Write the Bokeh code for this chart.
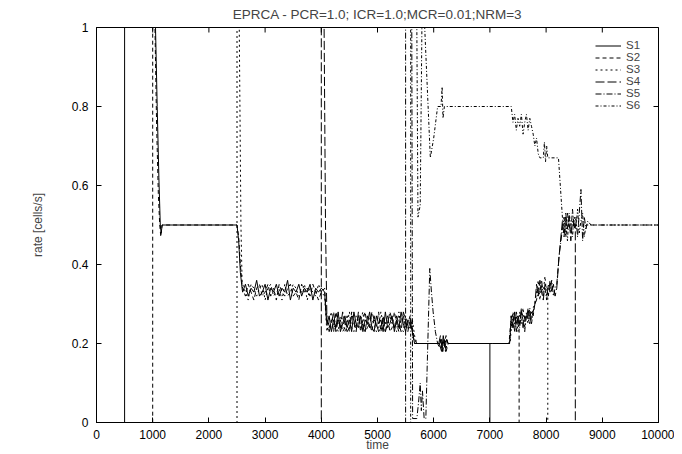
import math
from bokeh.plotting import figure
from bokeh.models import Range1d, Legend, LegendItem, FixedTicker, NumeralTickFormatter
from bokeh.embed import file_html
from bokeh.resources import INLINE

title_text = "EPRCA - PCR=1.0; ICR=1.0;MCR=0.01;NRM=3"
x_ticks = [0, 1000, 2000, 3000, 4000, 5000, 6000, 7000, 8000, 9000, 10000]
y_ticks = [0, 0.2, 0.4, 0.6, 0.8, 1]
names = ["S1", "S2", "S3", "S4", "S5", "S6"]

# sample times of the oscillating phases
tB = [2600, 2650, 2700, 2750, 2800, 2850, 2900, 2950, 3000, 3050, 3100, 3150, 3200, 3250, 3300,
      3350, 3400, 3450, 3500, 3550, 3600, 3650, 3700, 3750, 3800, 3850, 3900, 3950, 4000]
tC = [4100, 4140, 4180, 4220, 4260, 4300, 4340, 4380, 4420, 4460, 4500, 4540, 4580, 4620, 4660,
      4700, 4740, 4780, 4820, 4860, 4900, 4940, 4980, 5020, 5060, 5100, 5140, 5180, 5220, 5260,
      5300, 5340, 5380, 5420, 5460, 5500, 5540]
tE = [7380, 7410, 7440, 7470, 7500, 7530, 7560, 7590, 7620, 7650, 7680, 7710, 7740, 7770]
tF = [7830, 7860, 7890, 7920, 7950, 7980, 8010, 8040, 8070, 8100, 8130, 8160, 8190]
tG = [8290, 8320, 8350, 8380, 8410, 8440, 8470, 8500, 8530, 8560, 8590, 8620, 8650, 8680, 8710, 8740]

s1B = [0.33, 0.35, 0.32, 0.34, 0.33, 0.36, 0.32, 0.33, 0.35, 0.31, 0.34, 0.33, 0.35, 0.32, 0.34,
       0.33, 0.36, 0.31, 0.34, 0.33, 0.35, 0.32, 0.34, 0.33, 0.35, 0.31, 0.34, 0.33, 0.34]
s2B = [0.34, 0.32, 0.35, 0.33, 0.31, 0.34, 0.35, 0.32, 0.33, 0.35, 0.32, 0.34, 0.31, 0.35, 0.33,
       0.32, 0.34, 0.35, 0.32, 0.33, 0.31, 0.35, 0.33, 0.34, 0.32, 0.35, 0.33, 0.31, 0.33]
s3B = [0.35, 0.33, 0.31, 0.35, 0.34, 0.32, 0.34, 0.35, 0.31, 0.34, 0.35, 0.32, 0.33, 0.34, 0.31,
       0.35, 0.32, 0.33, 0.35, 0.34, 0.32, 0.33, 0.35, 0.31, 0.34, 0.33, 0.32, 0.35, 0.33]

s1C = [0.25, 0.27, 0.23, 0.26, 0.24, 0.28, 0.23, 0.25, 0.27, 0.24, 0.26, 0.23, 0.28, 0.25, 0.24,
       0.27, 0.23, 0.26, 0.25, 0.28, 0.24, 0.23, 0.27, 0.25, 0.26, 0.23, 0.28, 0.24, 0.25, 0.27,
       0.23, 0.26, 0.24, 0.28, 0.25, 0.23, 0.26]
s2C = [0.27, 0.24, 0.26, 0.23, 0.28, 0.25, 0.26, 0.23, 0.24, 0.27, 0.23, 0.28, 0.25, 0.24, 0.27,
       0.23, 0.26, 0.28, 0.24, 0.25, 0.23, 0.27, 0.24, 0.28, 0.23, 0.26, 0.25, 0.27, 0.23, 0.24,
       0.28, 0.25, 0.23, 0.26, 0.27, 0.24, 0.25]
s3C = [0.23, 0.26, 0.28, 0.24, 0.25, 0.23, 0.27, 0.26, 0.23, 0.25, 0.28, 0.24, 0.23, 0.27, 0.25,
       0.26, 0.28, 0.23, 0.24, 0.27, 0.26, 0.25, 0.23, 0.24, 0.28, 0.25, 0.23, 0.26, 0.27, 0.25,
       0.24, 0.23, 0.28, 0.24, 0.23, 0.27, 0.24]
s4C = [0.26, 0.23, 0.25, 0.28, 0.23, 0.26, 0.24, 0.28, 0.25, 0.23, 0.24, 0.27, 0.26, 0.23, 0.28,
       0.24, 0.25, 0.23, 0.27, 0.24, 0.28, 0.26, 0.25, 0.23, 0.24, 0.27, 0.23, 0.25, 0.28, 0.26,
       0.24, 0.27, 0.25, 0.23, 0.28, 0.26, 0.23]

s3E = [0.24, 0.28, 0.25, 0.27, 0.23, 0.28, 0.25, 0.29, 0.24, 0.27, 0.25, 0.28, 0.26, 0.29]
s4E = [0.27, 0.24, 0.28, 0.23, 0.27, 0.25, 0.29, 0.24, 0.27, 0.26, 0.29, 0.25, 0.28, 0.27]
s5E = [0.25, 0.27, 0.23, 0.28, 0.26, 0.24, 0.28, 0.26, 0.23, 0.28, 0.26, 0.29, 0.25, 0.28]
s6E = [0.80, 0.76, 0.78, 0.74, 0.77, 0.75, 0.78, 0.73, 0.76, 0.78, 0.74, 0.77, 0.75, 0.73]

s3F = [0.33, 0.36, 0.31, 0.35, 0.33, 0.37, 0.32]
s4F = [0.35, 0.32, 0.36, 0.33, 0.31, 0.35, 0.34, 0.32, 0.36, 0.33, 0.35, 0.32, 0.34]
s5F = [0.31, 0.34, 0.33, 0.36, 0.32, 0.34, 0.31, 0.35, 0.33, 0.36, 0.32, 0.34, 0.35]

s4G = [0.51, 0.47, 0.53, 0.49, 0.52, 0.46, 0.51, 0.50]
s5G = [0.49, 0.52, 0.47, 0.53, 0.50, 0.48, 0.54, 0.49, 0.52, 0.47, 0.53, 0.59, 0.46, 0.52, 0.49, 0.51]
s6G = [0.52, 0.48, 0.51, 0.46, 0.53, 0.50, 0.47, 0.52, 0.49, 0.54, 0.48, 0.51, 0.53, 0.47, 0.50, 0.50]

s1_t = ([0, 500, 500, 1050, 1080, 1110, 1135, 1150, 1170, 2500, 2530, 2560, 2590] + tB
        + [4060, 4085] + tC
        + [5580, 5620, 5660, 6100, 6140, 6170, 6200, 6230, 6260, 7000, 7000, 10000])
s1_v = ([0, 0, 1, 1, 0.8, 0.62, 0.5, 0.48, 0.5, 0.5, 0.46, 0.38, 0.34] + s1B
        + [0.33, 0.27] + s1C
        + [0.25, 0.23, 0.2, 0.2, 0.18, 0.22, 0.19, 0.21, 0.2, 0.2, 0, 0])

s2_t = ([0, 1000, 1000, 1040, 1070, 1100, 1125, 1145, 1165, 2500, 2530, 2560, 2590] + tB
        + [4060, 4085] + tC
        + [5580, 5620, 5660, 5700, 6100, 6130, 6160, 6190, 6220, 6250, 7340]
        + [7380, 7410, 7440, 7470, 7500] + [7520, 7520, 10000])
s2_v = ([0, 0, 1, 1, 0.75, 0.58, 0.5, 0.47, 0.5, 0.5, 0.47, 0.4, 0.35] + s2B
        + [0.34, 0.28] + s2C
        + [0.27, 0.24, 0.21, 0.2, 0.2, 0.21, 0.18, 0.2, 0.22, 0.2, 0.2]
        + [0.27, 0.24, 0.28, 0.25, 0.27] + [0.26, 0, 0])

s3_t = ([0, 2500, 2500, 2540, 2570, 2590] + tB + [4060, 4085] + tC
        + [5580, 5620, 5660, 5700, 6110, 6140, 6180, 6210, 6240, 7360] + tE + [7800]
        + tF[:7] + [8030, 8030, 10000])
s3_v = ([0, 0, 1, 1, 0.5, 0.36] + s3B + [0.32, 0.26] + s3C
        + [0.24, 0.26, 0.22, 0.2, 0.2, 0.19, 0.21, 0.18, 0.2, 0.2] + s3E + [0.3]
        + s3F + [0.34, 0, 0])

s4_t = ([0, 4000, 4000, 4050, 4075] + tC
        + [5580, 5620, 5660, 6090, 6120, 6150, 6190, 6220, 6260, 7350] + tE + [7800]
        + tF + [8230] + tG[:8] + [8520, 8520, 10000])
s4_v = ([0, 0, 1, 1, 0.5] + s4C
        + [0.26, 0.23, 0.2, 0.2, 0.22, 0.19, 0.21, 0.18, 0.2, 0.2] + s4E + [0.3]
        + s4F + [0.42] + s4G + [0.5, 0, 0])

s5_t = ([0, 5500, 5500, 5610, 5625, 5700, 5730, 5760, 5780, 5800, 5830, 5860, 5930, 5960, 5990,
         6030, 6070, 6100, 6130, 6160, 6190, 6230, 6260, 7350] + tE + [7800]
        + tF + [8230] + tG + [8800, 10000])
s5_v = ([0, 0, 1, 1, 0.01, 0.01, 0.05, 0.1, 0.03, 0.08, 0.01, 0.01, 0.39, 0.33, 0.28,
         0.23, 0.2, 0.19, 0.21, 0.18, 0.2, 0.21, 0.2, 0.2] + s5E + [0.3]
        + s5F + [0.42] + s5G + [0.5, 0.5])

s6_t = ([0, 5590, 5590, 5700, 5720, 5760, 5790, 5840, 5870, 5940, 6000, 6070, 6130, 6150, 6165,
         6190, 7360] + tE
        + [7800, 7830, 7860, 7890, 7950, 7970, 7990, 8010, 8030, 8220] + tG + [8800, 10000])
s6_v = ([0, 0, 1, 1, 0.52, 0.55, 1, 1, 0.9, 0.67, 0.72, 0.8, 0.8, 0.85, 0.77,
         0.8, 0.8] + s6E
        + [0.7, 0.72, 0.68, 0.67, 0.67, 0.71, 0.66, 0.7, 0.67, 0.67] + s6G + [0.5, 0.5])

series_t = [s1_t, s2_t, s3_t, s4_t, s5_t, s6_t]
series_v = [s1_v, s2_v, s3_v, s4_v, s5_v, s6_v]
dashes = ["solid", "4 3", "2 3", "9 3", "6 2 1 2", "3 2 1 2"]

FONT = "Liberation Sans"

p = figure(width=674, height=454, output_backend="svg", toolbar_location=None,
           x_range=Range1d(0, 10000), y_range=Range1d(0, 1),
           min_border_left=96, min_border_right=16, min_border_top=27, min_border_bottom=30)
p.title.text = title_text
p.title.text_font = FONT
p.title.text_font_size = "13.5px"
p.title.text_font_style = "normal"
p.title.align = "center"
p.title.vertical_align = "top"
p.title.standoff = 8
p.title.offset = 0

p.xgrid.visible = False
p.ygrid.visible = False
p.outline_line_color = "black"
p.outline_line_width = 1
p.background_fill_color = "white"

def style_axis(ax, ticks):
    ax.ticker = FixedTicker(ticks=ticks)
    ax.major_tick_in = 5
    ax.major_tick_out = 0
    ax.minor_tick_line_color = None
    ax.axis_line_color = "black"
    ax.major_tick_line_color = "black"
    ax.major_label_text_font = FONT
    ax.major_label_text_color = "black"
    ax.major_label_text_font_size = "12px"
    ax.axis_label_text_font = FONT
    ax.axis_label_text_font_size = "12px"
    ax.axis_label_text_font_style = "normal"

xa = p.xaxis[0]
style_axis(xa, x_ticks)
xa.major_label_standoff = 7
xa.axis_label = "time"
xa.axis_label_standoff = -4

ya = p.yaxis[0]
style_axis(ya, y_ticks)
ya.formatter = NumeralTickFormatter(format="0.[0]")
ya.major_label_standoff = 8
ya.axis_label = "rate [cells/s]"
ya.axis_label_standoff = 24

# mirrored inward ticks on the top and right borders (clipped to the frame)
p.scatter(x=x_ticks, y=[y_ticks[-1]] * len(x_ticks), marker="dash", angle=math.pi / 2,
          size=10, line_color="black", line_width=1)
p.scatter(x=[x_ticks[-1]] * len(y_ticks), y=y_ticks, marker="dash",
          size=10, line_color="black", line_width=1)

items = []
for name, t, v, d in zip(names, series_t, series_v, dashes):
    r = p.line(t, v, line_color="black", line_width=1, line_dash=d)
    items.append(LegendItem(label=name, renderers=[r]))

legend = Legend(items=items, location="top_right")
legend.border_line_alpha = 0
legend.background_fill_alpha = 0
legend.label_text_font = FONT
legend.label_text_font_size = "11.5px"
legend.glyph_width = 26
legend.glyph_height = 9
legend.label_height = 9
legend.spacing = 0
legend.padding = 2
legend.margin = 10
p.add_layout(legend)

open("out.html", "w").write(file_html(p, INLINE))
